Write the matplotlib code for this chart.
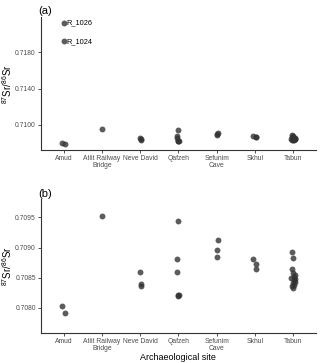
import matplotlib
matplotlib.use("Agg")
import matplotlib.pyplot as plt
import numpy as np

plt.rcParams['font.family'] = ['Liberation Sans', 'DejaVu Sans']
plt.rcParams['mathtext.fontset'] = 'custom'
plt.rcParams['mathtext.rm'] = 'Liberation Sans'
plt.rcParams['mathtext.it'] = 'Liberation Sans'

sites = ["Amud", "Atlit Railway\nBridge", "Neve David", "Qafzeh", "Sefunim\nCave", "Skhul", "Tabun"]

# values per site (panel b, without outliers)
amud = [0.70803, 0.70792]
atlit = [0.70952]
neve = [0.70860, 0.70840, 0.70836]
qafzeh = [0.70944, 0.70881, 0.70860, 0.70822, 0.70821, 0.70820]
sefunim = [0.70912, 0.70896, 0.70885]
skhul = [0.70881, 0.70872, 0.70864]
tabun = [0.70893, 0.70883, 0.70864, 0.70858, 0.70855, 0.70852, 0.70848,
         0.70846, 0.70843, 0.70841, 0.70838, 0.70836, 0.70833, 0.70850]
# small horizontal jitter offsets (category units)
amud_j = [-0.03, 0.03]
atlit_j = [0.0]
neve_j = [0.0, 0.02, 0.02]
qafzeh_j = [0.0, -0.03, -0.03, 0.0, 0.02, -0.01]
sefunim_j = [0.03, 0.02, 0.0]
skhul_j = [-0.05, 0.02, 0.02]
tabun_j = [-0.02, 0.0, -0.03, 0.0, 0.05, 0.03, 0.06, 0.01, 0.04, -0.01, 0.02, -0.03, 0.0, -0.05]

outlier_labels = ["R_1026", "R_1024"]
outlier_values = [0.72120, 0.71921]

groups = [amud, atlit, neve, qafzeh, sefunim, skhul, tabun]
jits = [amud_j, atlit_j, neve_j, qafzeh_j, sefunim_j, skhul_j, tabun_j]

fig = plt.figure(figsize=(3.2, 3.63), dpi=100)
axa = fig.add_axes([0.127, 0.587, 0.861, 0.366])
axb = fig.add_axes([0.127, 0.0835, 0.861, 0.3675])

pt_color = "#333333"
tick_col = "#4D4D4D"

def draw(ax, include_outliers):
    for i, (vals, jj) in enumerate(zip(groups, jits)):
        ax.scatter(np.full(len(vals), i) + np.array(jj), vals, s=18,
                   color=pt_color, alpha=0.8, linewidths=0, zorder=3)
    if include_outliers:
        ax.scatter([0, 0], outlier_values, s=18, color=pt_color, alpha=0.8,
                   linewidths=0, zorder=3)
        for lab, v in zip(outlier_labels, outlier_values):
            ax.text(0.06, v, lab, fontsize=5.3, va="center", ha="left", color="black")
    ax.set_xlim(-0.6, 6.6)
    ax.set_xticks(range(len(sites)))
    ax.set_xticklabels(sites, fontsize=4.9, color=tick_col, linespacing=1.0)
    for s in ["top", "right"]:
        ax.spines[s].set_visible(False)
    for s in ["left", "bottom"]:
        ax.spines[s].set_color("#333333")
        ax.spines[s].set_linewidth(0.8)
    ax.tick_params(axis="both", length=2, width=0.6, color="#333333",
                   labelsize=4.9, labelcolor=tick_col, pad=1.5)
    ax.set_ylabel("$^{87}$Sr/$^{86}$Sr", fontsize=7)
    ax.yaxis.set_label_coords(-0.097, 0.5)

draw(axa, True)
axa.set_ylim(0.70725, 0.72188)
axa.set_yticks([0.7100, 0.7140, 0.7180])
axa.set_yticklabels(["0.7100", "0.7140", "0.7180"])
axa.set_title("(a)", loc="left", fontsize=8, pad=2, x=-0.01)

draw(axb, False)
axb.set_ylim(0.70759, 0.70980)
axb.set_yticks([0.7080, 0.7085, 0.7090, 0.7095])
axb.set_yticklabels(["0.7080", "0.7085", "0.7090", "0.7095"])
axb.set_title("(b)", loc="left", fontsize=8, pad=2, x=-0.01)
axb.set_xlabel("Archaeological site", fontsize=6.5, labelpad=1)

fig.savefig("out.png", dpi=100)
